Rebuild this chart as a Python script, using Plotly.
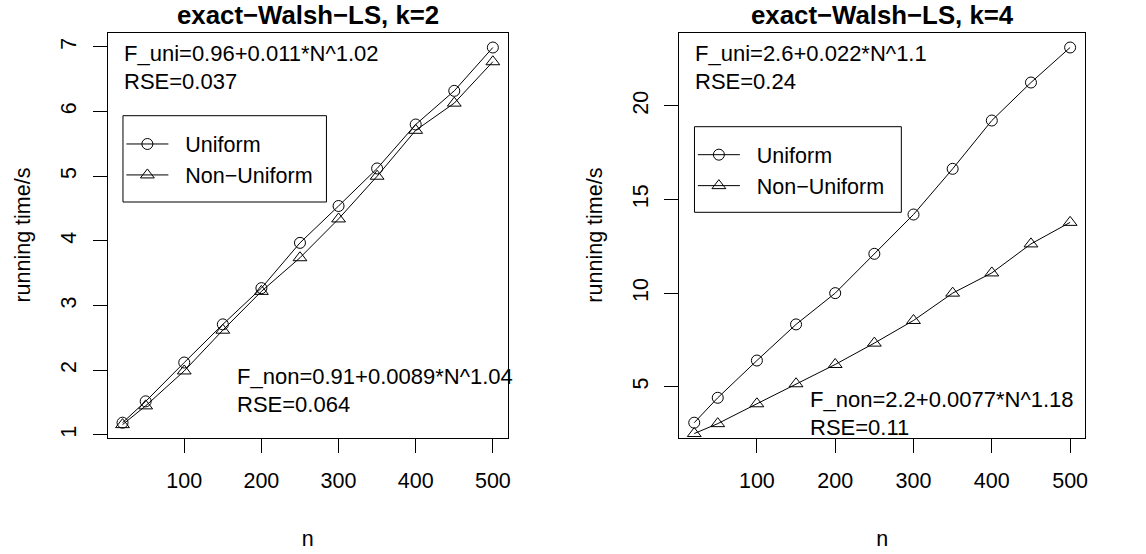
import plotly.graph_objects as go

# ---- data ----
n_values = [20, 50, 100, 150, 200, 250, 300, 350, 400, 450, 500]
k2_uniform = [1.19, 1.52, 2.12, 2.71, 3.27, 3.97, 4.54, 5.12, 5.80, 6.32, 6.99]
k2_nonuniform = [1.16, 1.45, 1.99, 2.62, 3.22, 3.74, 4.34, 5.00, 5.71, 6.13, 6.77]
k4_uniform = [3.08, 4.41, 6.40, 8.33, 10.0, 12.1, 14.2, 16.64, 19.22, 21.25, 23.12]
k4_nonuniform = [2.50, 3.03, 4.09, 5.16, 6.19, 7.33, 8.54, 10.0, 11.08, 12.63, 13.78]

titles = ["exact\u2212Walsh\u2212LS, k=2", "exact\u2212Walsh\u2212LS, k=4"]
series_names = ["Uniform", "Non\u2212Uniform"]
fit_uni = [["F_uni=0.96+0.011*N^1.02", "RSE=0.037"], ["F_uni=2.6+0.022*N^1.1", "RSE=0.24"]]
fit_non = [["F_non=0.91+0.0089*N^1.04", "RSE=0.064"], ["F_non=2.2+0.0077*N^1.18", "RSE=0.11"]]
x_label = "n"
y_label = "running time/s"

FONT = "Liberation Sans, Arial, Helvetica, sans-serif"
FS = 21.5
FS_TXT = 22
W, H = 1146, 554
PAD = "\u00a0\u00a0"


def r_range(vals):
    lo, hi = min(vals), max(vals)
    ext = 0.04 * (hi - lo)
    return [lo - ext, hi + ext]


fig = go.Figure()

panels = [
    dict(uni=k2_uniform, non=k2_nonuniform, xd=[108 / W, 509 / W], dtick=1, legend="legend",
         box=(123.3, 115.7, 327.3, 202.0)),
    dict(uni=k4_uniform, non=k4_nonuniform, xd=[681 / W, 1088 / W], dtick=5, legend="legend2",
         box=(696.3, 126.7, 903.7, 212.3)),
]
yd = [1 - 437.7 / H, 1 - 32.5 / H]

annotations = []
shapes = []
for i, p in enumerate(panels):
    ax = "" if i == 0 else str(i + 1)
    xa, ya = "x" + ax, "y" + ax
    fig.add_trace(go.Scatter(
        x=n_values, y=p["uni"], mode="lines+markers", name=PAD + series_names[0],
        line=dict(color="black", width=1),
        marker=dict(symbol="circle-open", size=11, color="black", line=dict(width=1)),
        xaxis=xa, yaxis=ya, legend=p["legend"], legendgroup=f"u{i}"))
    fig.add_trace(go.Scatter(
        x=n_values, y=p["non"], mode="lines+markers", name=PAD + series_names[1],
        line=dict(color="black", width=1),
        marker=dict(symbol="triangle-up-open", size=12, color="black", line=dict(width=1)),
        xaxis=xa, yaxis=ya, legend=p["legend"], legendgroup=f"n{i}"))

    axis_common = dict(showline=True, linecolor="black", linewidth=1, mirror=True,
                       ticks="outside", ticklen=14, tickcolor="black", tickwidth=1,
                       showgrid=False, zeroline=False,
                       tickfont=dict(family=FONT, size=FS, color="black"))
    fig.update_layout(**{
        "xaxis" + ax: dict(domain=p["xd"], range=r_range(n_values), tick0=0, dtick=100,
                           anchor=ya, ticklabelstandoff=9,
                           title=dict(text=x_label, font=dict(family=FONT, size=FS, color="black"),
                                      standoff=39),
                           **axis_common),
        "yaxis" + ax: dict(domain=yd, range=r_range(p["uni"]), tick0=0, dtick=p["dtick"],
                           anchor=xa, tickangle=-90, ticklabelstandoff=8,
                           title=dict(text=y_label, font=dict(family=FONT, size=FS, color="black"),
                                      standoff=20),
                           **axis_common),
    })

    # legend frame
    bx0, by0, bx1, by1 = p["box"]
    shapes.append(dict(type="rect", xref="paper", yref="paper",
                       x0=bx0 / W, x1=bx1 / W, y0=1 - by0 / H, y1=1 - by1 / H,
                       line=dict(color="black", width=1), fillcolor="white", layer="above"))

    xdom = xa + " domain"
    ydom = ya + " domain"
    cx = (p["xd"][0] + p["xd"][1]) / 2
    annotations.append(dict(text="<b>" + titles[i] + "</b>", xref="paper", yref="paper",
                            x=cx, y=1 - 15 / H, xanchor="center", yanchor="middle",
                            showarrow=False, font=dict(family=FONT, size=25.8, color="black")))
    plot_h = 437.7 - 32.5
    for j, t in enumerate(fit_uni[i]):
        annotations.append(dict(text=t, xref=xdom, yref=ydom, x=0.035,
                                y=(437.7 - (53.3 + 27.7 * j)) / plot_h,
                                xanchor="left", yanchor="middle", showarrow=False,
                                font=dict(family=FONT, size=FS_TXT, color="black")))
    non_y0 = [376, 399][i]
    for j, t in enumerate(fit_non[i]):
        annotations.append(dict(text=t, xref=xdom, yref=ydom, x=0.317,
                                y=(437.7 - (non_y0 + 28.5 * j)) / plot_h,
                                xanchor="left", yanchor="middle", showarrow=False,
                                font=dict(family=FONT, size=FS_TXT, color="black")))

legend_common = dict(xanchor="left", yanchor="top", bgcolor="rgba(0,0,0,0)",
                     borderwidth=0, itemwidth=42, tracegroupgap=0,
                     font=dict(family=FONT, size=FS, color="black"))
fig.update_layout(
    width=W, height=H, margin=dict(l=0, r=0, t=0, b=0),
    paper_bgcolor="white", plot_bgcolor="white",
    legend=dict(x=121.7 / W, y=1 - 123.5 / H, **legend_common),
    legend2=dict(x=694.7 / W, y=1 - 134.2 / H, **legend_common),
    annotations=annotations,
    shapes=shapes,
    font=dict(family=FONT, color="black"),
)

fig.write_html("out.html")
